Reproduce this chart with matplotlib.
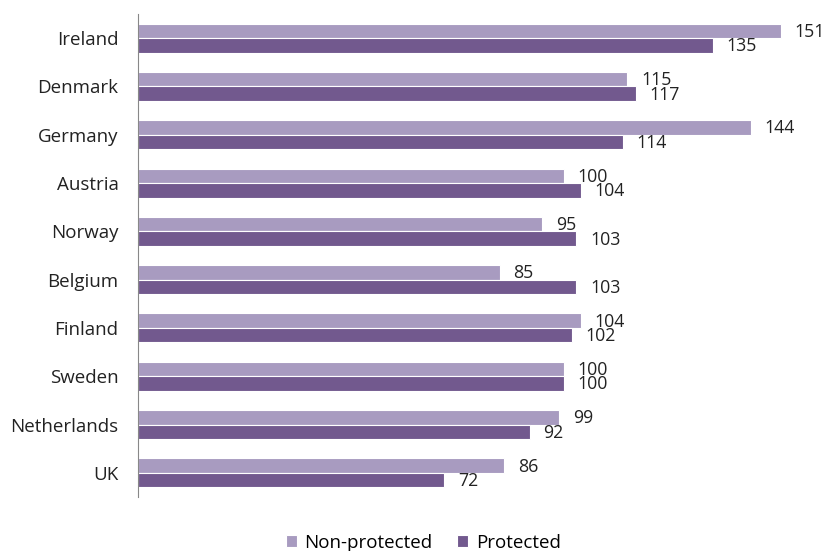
import numpy as np
import matplotlib
matplotlib.use('Agg')
from matplotlib import pyplot as plt

countries = ['Ireland', 'Denmark', 'Germany', 'Austria', 'Norway',
             'Belgium', 'Finland', 'Sweden', 'Netherlands', 'UK']
non_protected = [151, 115, 144, 100, 95, 85, 104, 100, 99, 86]
protected = [135, 117, 114, 104, 103, 103, 102, 100, 92, 72]

c_light = '#A89BC0'
c_dark = '#72598E'

plt.rcParams['font.family'] = ['Open Sans', 'DejaVu Sans']

fig = plt.figure(figsize=(8.3, 5.51), dpi=100)
ax = fig.add_axes([0.1663, 0.098, 0.8204, 0.8766])

y = np.arange(len(countries))
h = 0.3
b1 = ax.barh(y - h / 2, non_protected, height=h, color=c_light,
             edgecolor='white', linewidth=0.8, label='Non-protected')
b2 = ax.barh(y + h / 2, protected, height=h, color=c_dark,
             edgecolor='white', linewidth=0.8, label='Protected')

# value labels next to each bar
for bars, vals in ((b1, non_protected), (b2, protected)):
    for bar, v in zip(bars, vals):
        ax.text(v + 3.2, bar.get_y() + bar.get_height() / 2 + 0.02, str(v),
                va='center', ha='left', fontsize=12.8, color='#222222')

ax.set_xlim(0, 160)
ax.set_ylim(len(countries) - 0.5, -0.5)
ax.set_yticks(y)
ax.set_yticklabels(countries, fontsize=13.5, color='#222222')
ax.tick_params(axis='y', length=0, pad=14)
ax.set_xticks([])
for s in ['top', 'right', 'bottom']:
    ax.spines[s].set_visible(False)
ax.spines['left'].set_color('#888888')

fig.legend(handles=[b1, b2], loc='lower center', bbox_to_anchor=(0.51, -0.032),
           ncol=2, frameon=False, fontsize=13.5, handlelength=0.6,
           handleheight=0.6, handletextpad=0.4, columnspacing=1.3)

fig.savefig('out.png', dpi=100)
